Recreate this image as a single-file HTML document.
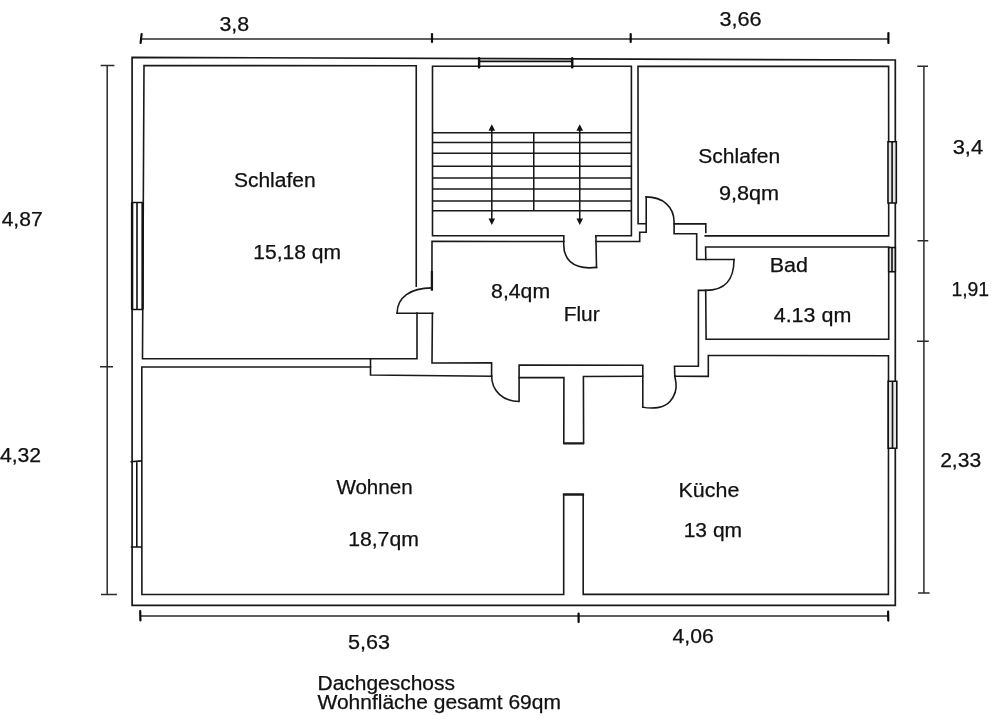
<!DOCTYPE html>
<html><head><meta charset="utf-8"><title>Dachgeschoss</title>
<style>
html,body{margin:0;padding:0;background:#fff;}
body{width:1000px;height:720px;overflow:hidden;font-family:"Liberation Sans",sans-serif;}
svg{display:block;will-change:transform;opacity:0.999;}
text{font-family:"Liberation Sans",sans-serif;font-size:19.5px;fill:#111;stroke:#111;stroke-width:0.25px;}
.w path,.w polyline,.w line{fill:none;stroke:#191919;stroke-width:1.6;stroke-linecap:square;stroke-linejoin:miter;}
.o path{fill:none;stroke:#191919;stroke-width:1.7;stroke-linejoin:miter;}
.d path{fill:none;stroke:#2a2a2a;stroke-width:1.5;}
.t path{fill:none;stroke:#0a0a0a;stroke-width:2.2;stroke-linecap:round;}
.s path{fill:none;stroke:#181818;stroke-width:1.55;}
.win path{fill:none;stroke:#111;stroke-width:1.6;}
</style></head><body>
<svg width="1000" height="720" viewBox="0 0 1000 720">
<rect width="1000" height="720" fill="#fff"/>

<!-- outer wall -->
<g class="o"><path d="M132.1,57.3 L895.3,60 L895.3,605.3 L132.1,605.3 Z"/></g>

<g class="w">
<!-- Schlafen 1 -->
<path d="M416.25,286.25 L416.25,65.75 L144,65.6 L142.5,358.8 L417,358.75 L417,313"/>
<!-- door schlafen1 -->
<path d="M397.1,313.2 L432.7,313.2"/>
<path d="M431.8,287.9 C410.3,287.9 397.1,297.5 397.1,313.2"/>
<path d="M431.9,272 L431.9,289.5" style="stroke-width:2.3"/>
<!-- Flur left wall -->
<path d="M431.9,289.5 L432,241.4 L563.8,241.5 L563.8,235.8 L432.5,235.8 L432.5,66.3 L631.4,66.3 L631.4,235.8 L595.9,235.8"/>
<path d="M432.4,313.2 L432,363 L491.6,362.9 L491.6,376"/>
<!-- stair door -->
<path d="M595.9,235.8 L596.5,267.4"/>
<path d="M563.8,241.5 C562.6,258.5 572,270.3 596.5,267.4"/>
<!-- flur top right -->
<path d="M596,241.5 L639.7,241.5 L639.7,232.3 L646.2,232.3"/>
<!-- Schlafen2 -->
<path d="M646.2,223.7 L638.1,223.7 L638,66.4 L888.6,66.3 L888.7,235.85 L705.2,235.85"/>
<path d="M674.1,223.9 L705.8,223.9 L705.8,232.5"/>
<!-- door schlafen2 -->
<path d="M646.2,232.3 L646.2,196.9"/>
<path d="M646.2,196.9 C662.94,196.90 674.10,206.94 674.1,222 L674.1,233.8 L696.7,233.8 L696.7,259.5 L734,259.5"/>
<!-- Bad -->
<path d="M705.8,259.5 L705.6,247 L888.7,247 L888.7,339.25 L706.1,339.25 L705.7,290.4 L698.4,290.4 L698.4,366.3 L674.5,366.3 L674.8,376.2"/>
<path d="M734,259.5 C734.00,280.51 724.91,290.40 705.6,290.4"/>
<!-- Wohnen -->
<path d="M370.5,358.8 L370.5,375 L491.5,376.25"/>
<path d="M370.5,367 L141.8,367 L141.9,594.5 L563.7,594.5 L563.7,494.3 L583.2,494.3 L583.2,594.4 L888.4,594.4 L888.5,355.7 L708.3,355.5 L708.3,376.4 L674.8,376.2"/>
<!-- door 1 -->
<path d="M491.6,376 C491.60,390.79 503.15,401.50 519.1,401.5 L519.1,365 L642.8,365.3 L642.8,407.2"/>
<path d="M642.8,407.2 C652,409 664,408.4 670,401.5 C675,395.5 676.6,388 676,383 L674.8,376.2"/>
<!-- T wall -->
<path d="M563.3,443.5 L584.1,443.5 M562.9,494.6 L584.1,494.6" style="stroke-width:2.2;stroke-linecap:butt"/>
<path d="M519.1,377.6 L563.9,377.6 L563.8,443.3 L583.6,443.3 L583.4,376.5 L642.8,376.2"/>
</g>

<!-- windows -->
<g class="win">
<path d="M479.1,58.2 L479.1,67.4 M572.25,58.2 L572.25,67.4" style="stroke-width:2.4;stroke-linecap:round"/>
<path d="M479.1,61.4 L572.25,61.4"/>
<path d="M131.6,202.5 L142.8,202.5 M131.6,309.5 L142.8,309.5 M137,202.5 L137,309.5" />
<path d="M132.1,202.5 L132.1,309.5 M142.6,202.5 L142.6,309.5" style="stroke-width:2.4"/>
<path d="M130.5,461.7 L142,460.9 M130.8,547 L142,547 M136.8,461.3 L136.8,547"/>
<path d="M888,141.75 L896.3,141.75 L896.3,203 L888,203 Z" style="fill:#e4e4e4"/><path d="M892.1,141.75 L892.1,203"/>
<path d="M888.7,247.5 L895.3,247.5 L895.3,271.75 L888.7,271.75 Z" style="fill:#e4e4e4"/><path d="M892,247.5 L892,271.75"/>
<path d="M888.2,381.3 L896.8,381.3 L896.8,448.3 L888.2,448.3 Z" style="fill:#e4e4e4"/><path d="M892.5,381.3 L892.5,448.3"/>
</g>

<!-- stairs -->
<g class="s">
<path d="M432.5,132.75 L632,132.75"/>
<path d="M432.5,142.5 L632,142.5"/>
<path d="M432.5,153.25 L632,153.25"/>
<path d="M432.5,166.25 L632,166.25"/>
<path d="M432.5,178 L632,178"/>
<path d="M432.5,189 L632,189"/>
<path d="M432.5,201 L632,201"/>
<path d="M432.5,210.75 L632,210.75"/>
<path d="M533.75,132.75 L533.75,210.75"/>
<path d="M491.8,128 L491.8,221 M579.75,128 L579.75,221"/>
<path d="M491.8,124.3 L488.5,130.8 L495.1,130.8 Z M491.8,225 L488.5,218.5 L495.1,218.5 Z M579.75,124.3 L576.45,130.8 L583.05,130.8 Z M579.75,225 L576.45,218.5 L583.05,218.5 Z" style="fill:#111;stroke:none"/>
</g>

<!-- dimension lines -->
<g class="d">
<path d="M141,38.9 L888.4,38.9"/>
<path d="M140,615.9 L888.2,615.9"/>
<path d="M107.2,65.6 L107.2,594.4"/>
<path d="M923.9,66.25 L923.9,593.1"/>
<path d="M100.6,65.6 L114.4,65.6 M100,366.8 L113,366.8 M101,594.4 L116.9,594.4"/>
<path d="M917.25,66.25 L928,66.25 M917.5,240.75 L928.25,240.75 M917,341.25 L928.75,341.25 M918.1,593.1 L929.6,593.1"/>
</g>
<g class="t">
<path d="M141.6,34 L140.6,43"/>
<path d="M432,34 L432,42"/>
<path d="M630.7,34 L630.7,42"/>
<path d="M888.4,33 L888.4,43"/>
<path d="M140.2,611 L140.4,620.4"/>
<path d="M578.6,613.5 L578.6,622"/>
<path d="M888.1,611.6 L888.3,620.6"/>
</g>

<g>
<text x="219.40" y="31.25" textLength="29.70" lengthAdjust="spacingAndGlyphs">3,8</text>
<text x="719.40" y="26.25" textLength="42.20" lengthAdjust="spacingAndGlyphs">3,66</text>
<text x="1.65" y="226.25" textLength="40.95" lengthAdjust="spacingAndGlyphs">4,87</text>
<text x="-0.10" y="462" textLength="41.20" lengthAdjust="spacingAndGlyphs">4,32</text>
<text x="952.65" y="154.25" textLength="30.45" lengthAdjust="spacingAndGlyphs">3,4</text>
<text x="951.40" y="295.5" textLength="37.70" lengthAdjust="spacingAndGlyphs">1,91</text>
<text x="940.15" y="466.75" textLength="40.95" lengthAdjust="spacingAndGlyphs">2,33</text>
<text x="347.90" y="648.5" textLength="42.00" lengthAdjust="spacingAndGlyphs">5,63</text>
<text x="672.50" y="643" textLength="41.20" lengthAdjust="spacingAndGlyphs">4,06</text>
<text x="233.90" y="187.4" textLength="81.80" lengthAdjust="spacingAndGlyphs">Schlafen</text>
<text x="253.30" y="258.6" textLength="87.80" lengthAdjust="spacingAndGlyphs">15,18 qm</text>
<text x="698.30" y="162.6" textLength="81.80" lengthAdjust="spacingAndGlyphs">Schlafen</text>
<text x="718.90" y="200" textLength="60.20" lengthAdjust="spacingAndGlyphs">9,8qm</text>
<text x="769.65" y="272" textLength="38.20" lengthAdjust="spacingAndGlyphs">Bad</text>
<text x="773.70" y="322.25" textLength="77.65" lengthAdjust="spacingAndGlyphs">4.13 qm</text>
<text x="491.10" y="297.75" textLength="59.00" lengthAdjust="spacingAndGlyphs">8,4qm</text>
<text x="563.70" y="321.3" textLength="35.90" lengthAdjust="spacingAndGlyphs">Flur</text>
<text x="336.40" y="493.5" textLength="76.20" lengthAdjust="spacingAndGlyphs">Wohnen</text>
<text x="348.15" y="546" textLength="70.75" lengthAdjust="spacingAndGlyphs">18,7qm</text>
<text x="678.60" y="497.25" textLength="60.70" lengthAdjust="spacingAndGlyphs">Küche</text>
<text x="683.70" y="537.3" textLength="58.40" lengthAdjust="spacingAndGlyphs">13 qm</text>
<text x="317.50" y="689.6" textLength="137.40" lengthAdjust="spacingAndGlyphs">Dachgeschoss</text>
<text x="317.50" y="709.2" textLength="243.40" lengthAdjust="spacingAndGlyphs">Wohnfläche gesamt 69qm</text>
</g>
</svg>
</body></html>
